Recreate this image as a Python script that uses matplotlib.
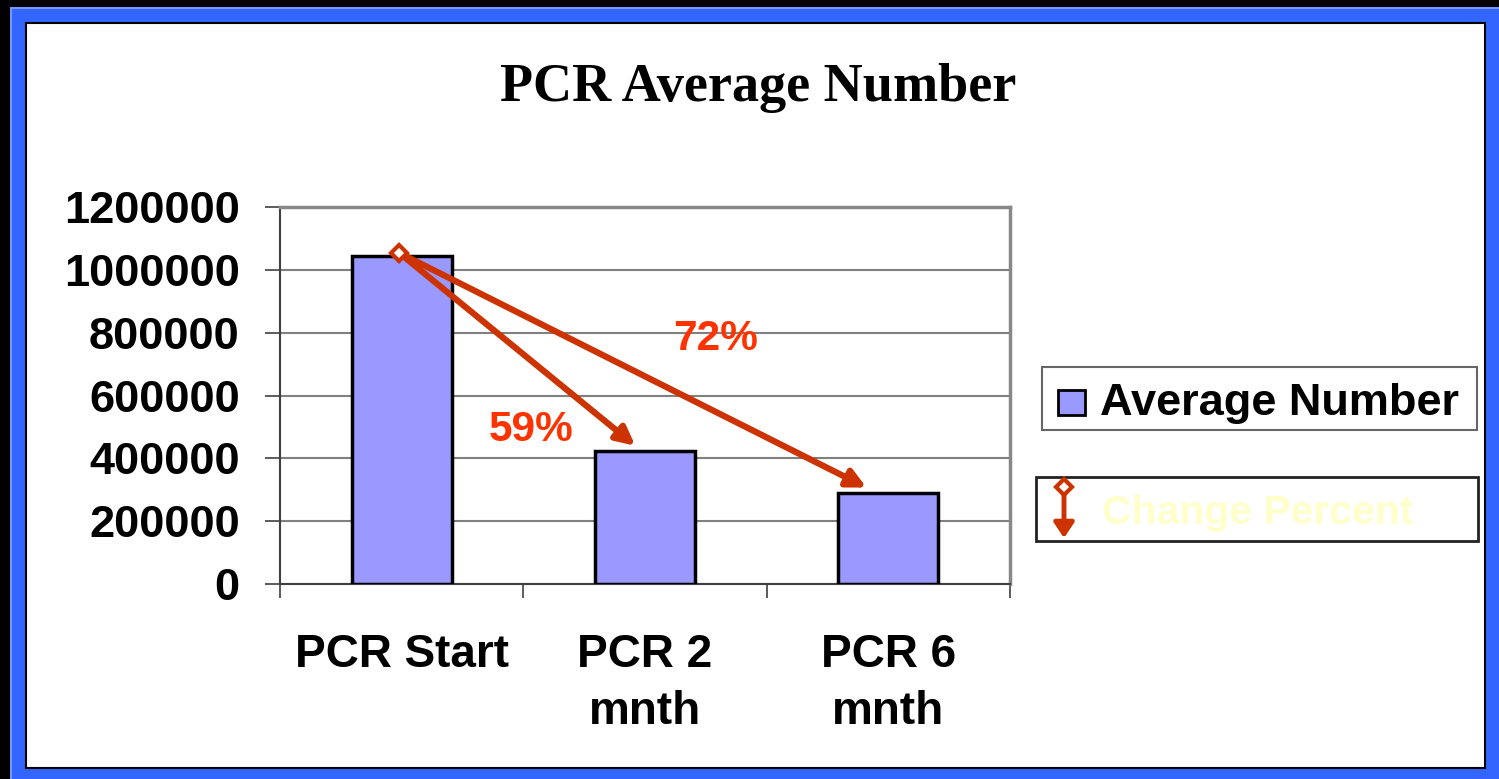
import matplotlib.pyplot as plt
import numpy as np
from matplotlib.patches import Rectangle, FancyArrowPatch

# Data
categories = ['PCR Start', 'PCR 2\nmnth', 'PCR 6\nmnth']
avg_number = [1044000, 423000, 290000]
change_labels = ['59%', '72%']
y_ticks = [0, 200000, 400000, 600000, 800000, 1000000, 1200000]

W, H = 1499, 779
fig = plt.figure(figsize=(W / 100, H / 100), dpi=100)
fig.patch.set_facecolor('black')


def fx(x):
    return x / W


def fy(y):
    return 1 - y / H


def box(x0, y0, x1, y1, z=-10, **kw):
    fig.add_artist(Rectangle((fx(x0), fy(y1)), fx(x1) - fx(x0), fy(y0) - fy(y1),
                             transform=fig.transFigure, zorder=z, **kw))


# slide frame: blue border with white panel
box(10, 7, 1499, 779, facecolor='#3366FF', edgecolor='none')
box(10, 7, 1499, 9, facecolor='#7799FF', edgecolor='none')
box(10, 7, 12, 779, facecolor='#7799FF', edgecolor='none')
box(26, 23, 1485, 768, facecolor='white', edgecolor='black', linewidth=1.5)

fig.text(fx(758), fy(88), 'PCR Average Number', family='Liberation Serif',
         weight='bold', fontsize=39, ha='center', va='center')

ax = fig.add_axes([fx(280), fy(584), fx(1010) - fx(280), fy(207) - fy(584)])
ax.set_facecolor('white')
x = np.arange(len(categories))
ax.bar(x, avg_number, width=0.41, color='#9999FF', edgecolor='black', linewidth=2.5, zorder=3)
ax.set_xlim(-0.5, 2.5)
ax.set_ylim(0, 1200000)
ax.set_yticks(y_ticks)
ax.set_yticklabels([str(v) for v in y_ticks], family='Liberation Sans',
                   weight='bold', fontsize=32.5)
ax.yaxis.grid(True, color='#808080', linewidth=1.5, zorder=0)
ax.tick_params(axis='y', length=11, width=1.2, color='#404040', pad=18)
ax.set_xticks(x)
ax.set_xticklabels(categories, family='Liberation Sans', weight='bold',
                   fontsize=33, linespacing=1.38)
ax.set_xticks(np.arange(len(categories) + 1) - 0.5, minor=True)
ax.tick_params(axis='x', which='major', length=0, pad=35)
ax.tick_params(axis='x', which='minor', length=10, width=1.2, color='#404040')
for s in ['left', 'bottom']:
    ax.spines[s].set_color('#404040')
    ax.spines[s].set_linewidth(1.5)
for s in ['top', 'right']:
    ax.spines[s].set_color('#888888')
    ax.spines[s].set_linewidth(2.5)

# change-percent arrows from the top of the first bar
arrow_color = '#CC3300'
start = (x[0] - 0.01, avg_number[0] + 10000)
label_pos = [(0.53, 490000), (1.29, 780000)]
for i, lab in enumerate(change_labels):
    end = (x[i + 1] - 0.04 - 0.05 * i, avg_number[i + 1] + 17000)
    ax.annotate('', xy=end, xytext=start,
                arrowprops=dict(arrowstyle='-|>,head_length=1.1,head_width=0.55',
                                color=arrow_color, lw=4.5, shrinkA=0, shrinkB=0),
                zorder=5)
    ax.text(label_pos[i][0], label_pos[i][1], lab, color='#FF3300',
            family='Liberation Sans', weight='bold', fontsize=30.5,
            ha='center', va='center', zorder=6)
ax.plot([start[0]], [start[1]], marker='D', markersize=8, mfc='white',
        mec=arrow_color, mew=3, zorder=6)

# legend boxes
box(1042, 367, 1477, 430, z=2, facecolor='white', edgecolor='#666666', linewidth=1.5)
box(1058, 390, 1085, 415, z=3, facecolor='#9999FF', edgecolor='black', linewidth=2)
fig.text(fx(1100), fy(403), 'Average Number', family='Liberation Sans',
         weight='bold', fontsize=32.5, va='center', ha='left')

box(1036, 477, 1478, 541, z=2, facecolor='white', edgecolor='#222222', linewidth=2)
fig.add_artist(FancyArrowPatch(
    (fx(1064), fy(490)), (fx(1064), fy(538)), transform=fig.transFigure,
    arrowstyle='-|>,head_length=0.45,head_width=0.3', color=arrow_color,
    lw=3.5, shrinkA=0, shrinkB=0, mutation_scale=20, zorder=3))
fig.add_artist(plt.Line2D([fx(1064)], [fy(487)], marker='D', markersize=8,
                          mfc='white', mec=arrow_color, mew=3,
                          transform=fig.transFigure, zorder=4))
fig.text(fx(1102), fy(513), 'Change Percent', family='Liberation Sans',
         weight='bold', fontsize=29.5, va='center', ha='left', color='#FFFFCC')

fig.savefig('out.png', dpi=100, facecolor=fig.get_facecolor())
